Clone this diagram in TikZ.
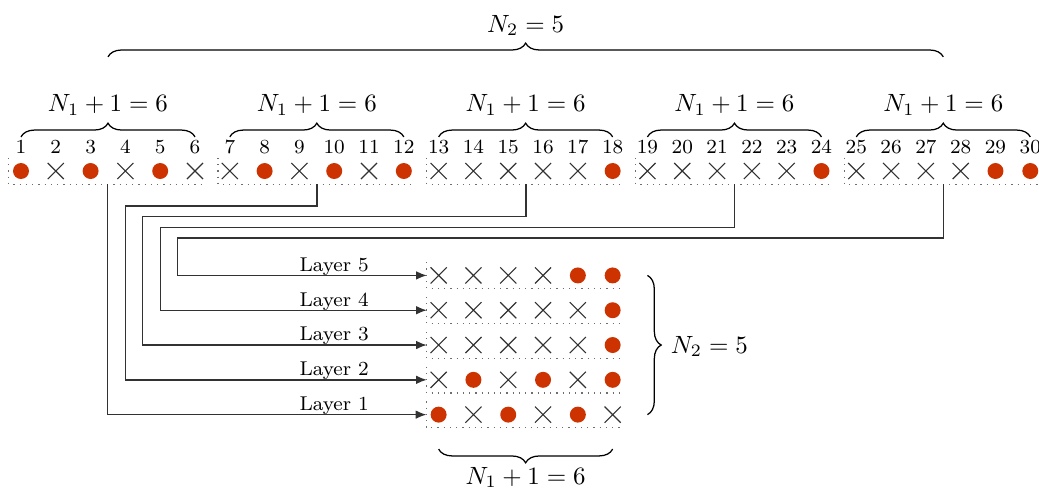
\documentclass[tikz,border=0pt]{standalone}
\usepackage{amsmath,amssymb}
\usepackage{xcolor}
\usepackage{tikz}
\usetikzlibrary{arrows.meta,positioning,shapes.misc,fit,decorations.pathreplacing}
\definecolor{vermelho}{RGB}{204,51,0}
\definecolor{cinzaescuro}{RGB}{50,50,50}
\definecolor{cinzamedio}{RGB}{110,110,110}
\tikzset{
  marca0/.style={cross out,draw=cinzaescuro,minimum size=6pt,inner sep=0pt,line width=0.45pt},
  marca1/.style={circle,fill=vermelho,minimum size=6.4pt,inner sep=0pt},
  numero/.style={font=\footnotesize,anchor=base,inner sep=0pt},
  grupo/.style={inner xsep=1.3pt,inner ysep=1.7pt},
  pontilhado/.style={dotted,cinzamedio,line width=0.5pt},
  chave/.style={decorate,decoration={brace,amplitude=5.5pt},line width=0.5pt},
  rotulo/.style={font=\footnotesize,anchor=base,inner sep=0pt},
  seta/.style={-{Latex[length=1.5mm,width=1.2mm]},cinzaescuro,line width=0.55pt}
}

\begin{document}
\begin{tikzpicture}[x=0.49cm,y=0.49cm]
\useasboundingbox (0.397,-9.167) rectangle (30.25,4.914);
\foreach \val [count=\i] in {1,0,1,0,1,0, 0,1,0,1,0,1, 0,0,0,0,0,1, 0,0,0,0,0,1, 0,0,0,0,1,1} {
  \pgfmathtruncatemacro\k{int((\i-1)/6)+1}
  \pgfmathtruncatemacro\j{\i-6*(\k-1)}
  \node[marca\val] (c\i) at (\i,0) {};
  \node[numero] (n\i) at (\i,0.49) {\i};
  \node[marca\val] (m\k-\j) at (12+\j,\k-8) {};
}
\foreach \g in {1,...,5} {
  \pgfmathtruncatemacro\a{6*\g-5}
  \pgfmathtruncatemacro\b{6*\g}
  \node[grupo,fit=(c\a)(c\b)] (g\g) {};
  \node[grupo,fit=(m\g-1)(m\g-6)] (r\g) {};
  \draw[pontilhado] (g\g.north west) -- (g\g.south west) -- (g\g.south east);
  \draw[pontilhado] (r\g.north west) -- (r\g.south west) -- (r\g.south east);
  \draw[chave] (\a,0.98) -- (\b,0.98);
  \node[anchor=base] (rot\g) at ({6*\g-2.5},1.70) {$N_1+1=6$};
  \node[rotulo] (t\g) at (10,\g-7.88) {Layer \g};
}
\draw[chave] (3.5,3.28) -- (27.5,3.28);
\node[anchor=base] (topo) at (15.5,3.99) {$N_2=5$};
\draw[chave] (19.0,-3) -- (19.0,-7);
\node[anchor=base west] (lado) at (19.42,-5.23) {$N_2=5$};
\draw[chave] (18,-7.99) -- (13,-7.99);
\node[anchor=base] (baixo) at (15.5,-9.0) {$N_1+1=6$};
\draw[seta] (g1.south) |- (r1.west);
\foreach \g in {2,...,5} {
  \coordinate (d\g) at ({3.5+0.5*(\g-1)},{-1-0.31*(\g-2)});
  \draw[seta] (g\g.south) |- (d\g) |- (r\g.west);
}
\end{tikzpicture}
\end{document}
